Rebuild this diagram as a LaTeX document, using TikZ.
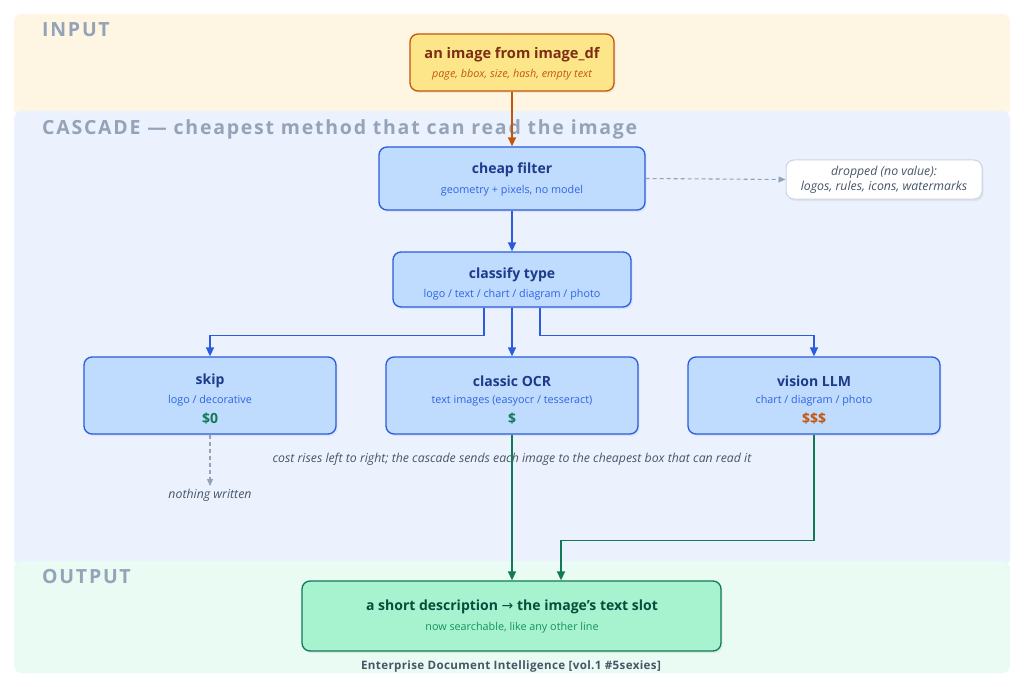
\documentclass[tikz,border=0pt]{standalone}
\usepackage{fontspec}
\setmainfont{Open Sans}
\newfontfamily\bandfont[LetterSpace=9]{Open Sans}
\newfontfamily\footfont[LetterSpace=3]{Open Sans}
\newfontfamily\symfont{DejaVu Sans}
\usetikzlibrary{arrows.meta,shadows}
\definecolor{inband}{HTML}{FEF6E2}
\definecolor{caband}{HTML}{EBF2FE}
\definecolor{outband}{HTML}{E9FBF2}
\definecolor{bandtxt}{HTML}{94A3B8}
\definecolor{yfill}{HTML}{FDE68A}
\definecolor{ydraw}{HTML}{C2570C}
\definecolor{ytitle}{HTML}{7C2D12}
\definecolor{bfill}{HTML}{BFDBFE}
\definecolor{bdraw}{HTML}{2A5BE0}
\definecolor{btitle}{HTML}{1E3A8A}
\definecolor{bsub}{HTML}{2F64E6}
\definecolor{gfill}{HTML}{A7F3D0}
\definecolor{gdraw}{HTML}{0F7A55}
\definecolor{gtitle}{HTML}{064E3B}
\definecolor{gsub}{HTML}{15905F}
\definecolor{gray1}{HTML}{94A3B8}
\definecolor{capt}{HTML}{475569}
\definecolor{dborder}{HTML}{CBD5E1}
\tikzset{
  band/.style={rounded corners=8pt},
  bandlabel/.style={anchor=west, inner sep=0pt, text=bandtxt, font=\bandfont\bfseries\fontsize{19.5}{22}\selectfont},
  box/.style={rectangle, rounded corners=8pt, line width=1.3pt, inner sep=0pt,
     drop shadow={opacity=0.12, shadow xshift=1.5pt, shadow yshift=-2pt}},
  ybox/.style={box, fill=yfill, draw=ydraw},
  bbox/.style={box, fill=bfill, draw=bdraw},
  gbox/.style={box, fill=gfill, draw=gdraw},
  wbox/.style={box, fill=white, draw=dborder, line width=1pt},
  ttl/.style={font=\bfseries\fontsize{14}{16}\selectfont},
  sub/.style={font=\fontsize{10.8}{13}\selectfont},
  itl/.style={font=\itshape\fontsize{10.8}{13}\selectfont},
  captxt/.style={font=\itshape\fontsize{12.3}{15}\selectfont, text=capt},
  arr/.style={line width=1.4pt, -{Triangle[length=9pt,width=8pt]}},
  darr/.style={line width=1.1pt, dash pattern=on 4pt off 3pt, draw=gray1, -{Triangle[length=7pt,width=6pt]}},
}
\begin{document}
\begin{tikzpicture}[x=1pt,y=-1pt]
\useasboundingbox (0,0) rectangle (1024,687);
\fill[white] (0,0) rectangle (1024,687);
% bands
\fill[band, inband] (14,14) rectangle (1010,116);
\fill[band, caband] (14,111) rectangle (1010,566);
\fill[band, outband] (14,561) rectangle (1010,673);
\fill[caband] (14,556) rectangle (1010,561);
\node[bandlabel] (lin) at (42,30) {INPUT};
\node[bandlabel] (lca) at (42,129) {CASCADE — cheapest method that can read the image};
\node[bandlabel] (lout) at (42,577) {OUTPUT};

% image
\node[ybox, minimum width=204pt, minimum height=57pt] (img) at (512,62.5) {};
\node[ttl, text=ytitle, font=\bfseries\fontsize{14.6}{17}\selectfont] (imgt) at (512,55) {an image from image\_df};
\node[itl, text=ydraw] (imgs) at (512,75) {page, bbox, size, hash, empty text};

% cheap filter
\node[bbox, minimum width=266pt, minimum height=63pt] (cf) at (512,178.5) {};
\node[ttl, text=btitle] (cft) at (512,170) {cheap filter};
\node[sub, text=bsub] (cfs) at (512,190.5) {geometry + pixels, no model};

% dropped
\node[wbox, minimum width=196pt, minimum height=39pt] (dr) at (884,179.5) {};
\node[captxt, align=center] (drt) at (884,179.5) {dropped (no value):\\logos, rules, icons, watermarks};

% classify
\node[bbox, minimum width=238pt, minimum height=55pt] (cl) at (512,279.5) {};
\node[ttl, text=btitle] (clt) at (512,275) {classify type};
\node[sub, text=bsub] (cls) at (512,294.5) {logo / text / chart / diagram / photo};

% skip
\node[bbox, minimum width=252pt, minimum height=77pt] (sk) at (210,395.5) {};
\node[ttl, text=btitle] (skt) at (210,381) {skip};
\node[sub, text=bsub] (sks) at (210,400.5) {logo / decorative};
\node[ttl, text=gdraw] (skc) at (210,419) {\$0};

% OCR
\node[bbox, minimum width=252pt, minimum height=77pt] (ocr) at (512,395.5) {};
\node[ttl, text=btitle] (ocrt) at (512,381) {classic OCR};
\node[sub, text=bsub] (ocrs) at (512,400.5) {text images (easyocr / tesseract)};
\node[ttl, text=gdraw] (ocrc) at (512,419) {\$};

% vision
\node[bbox, minimum width=252pt, minimum height=77pt] (vl) at (814,395.5) {};
\node[ttl, text=btitle] (vlt) at (814,381) {vision LLM};
\node[sub, text=bsub] (vls) at (814,400.5) {chart / diagram / photo};
\node[ttl, text=ydraw] (vlc) at (814,419) {\$\$\$};

% captions
\node[captxt] (capn) at (512,459) {cost rises left to right; the cascade sends each image to the cheapest box that can read it};
\coordinate (nw) at (210,486);
\node[captxt] (nwt) at (210,495) {nothing written};

% output
\node[gbox, minimum width=419pt, minimum height=70pt] (out) at (511.5,616) {};
\node[ttl, text=gtitle] (outt) at (512,607) {a short description {\symfont\mdseries →} the image's text slot};
\node[sub, text=gsub] (outs) at (512,627.5) {now searchable, like any other line};

\node[text=capt, font=\footfont\bfseries\fontsize{11.6}{14}\selectfont] (foot) at (511,666) {Enterprise Document Intelligence [vol.1 \#5sexies]};

% connectors
\draw[arr, draw=ydraw] (img.south) -- (cf.north);
\draw[arr, draw=bdraw] (cf.south) -- (cl.north);
\draw[darr] (cf.east) -- (dr.west);
\draw[arr, draw=bdraw] ([xshift=-28pt]cl.south) -- ++(0,28) -| (sk.north);
\draw[arr, draw=bdraw] (cl.south) -- (ocr.north);
\draw[arr, draw=bdraw] ([xshift=28pt]cl.south) -- ++(0,28) -| (vl.north);
\draw[darr] (sk.south) -- (nw);
\draw[arr, draw=gdraw] (ocr.south) -- (ocr.south |- out.north);
\draw[arr, draw=gdraw] (vl.south) -- ++(0,106) -| ([xshift=49.5pt]out.north);
\end{tikzpicture}
\end{document}
